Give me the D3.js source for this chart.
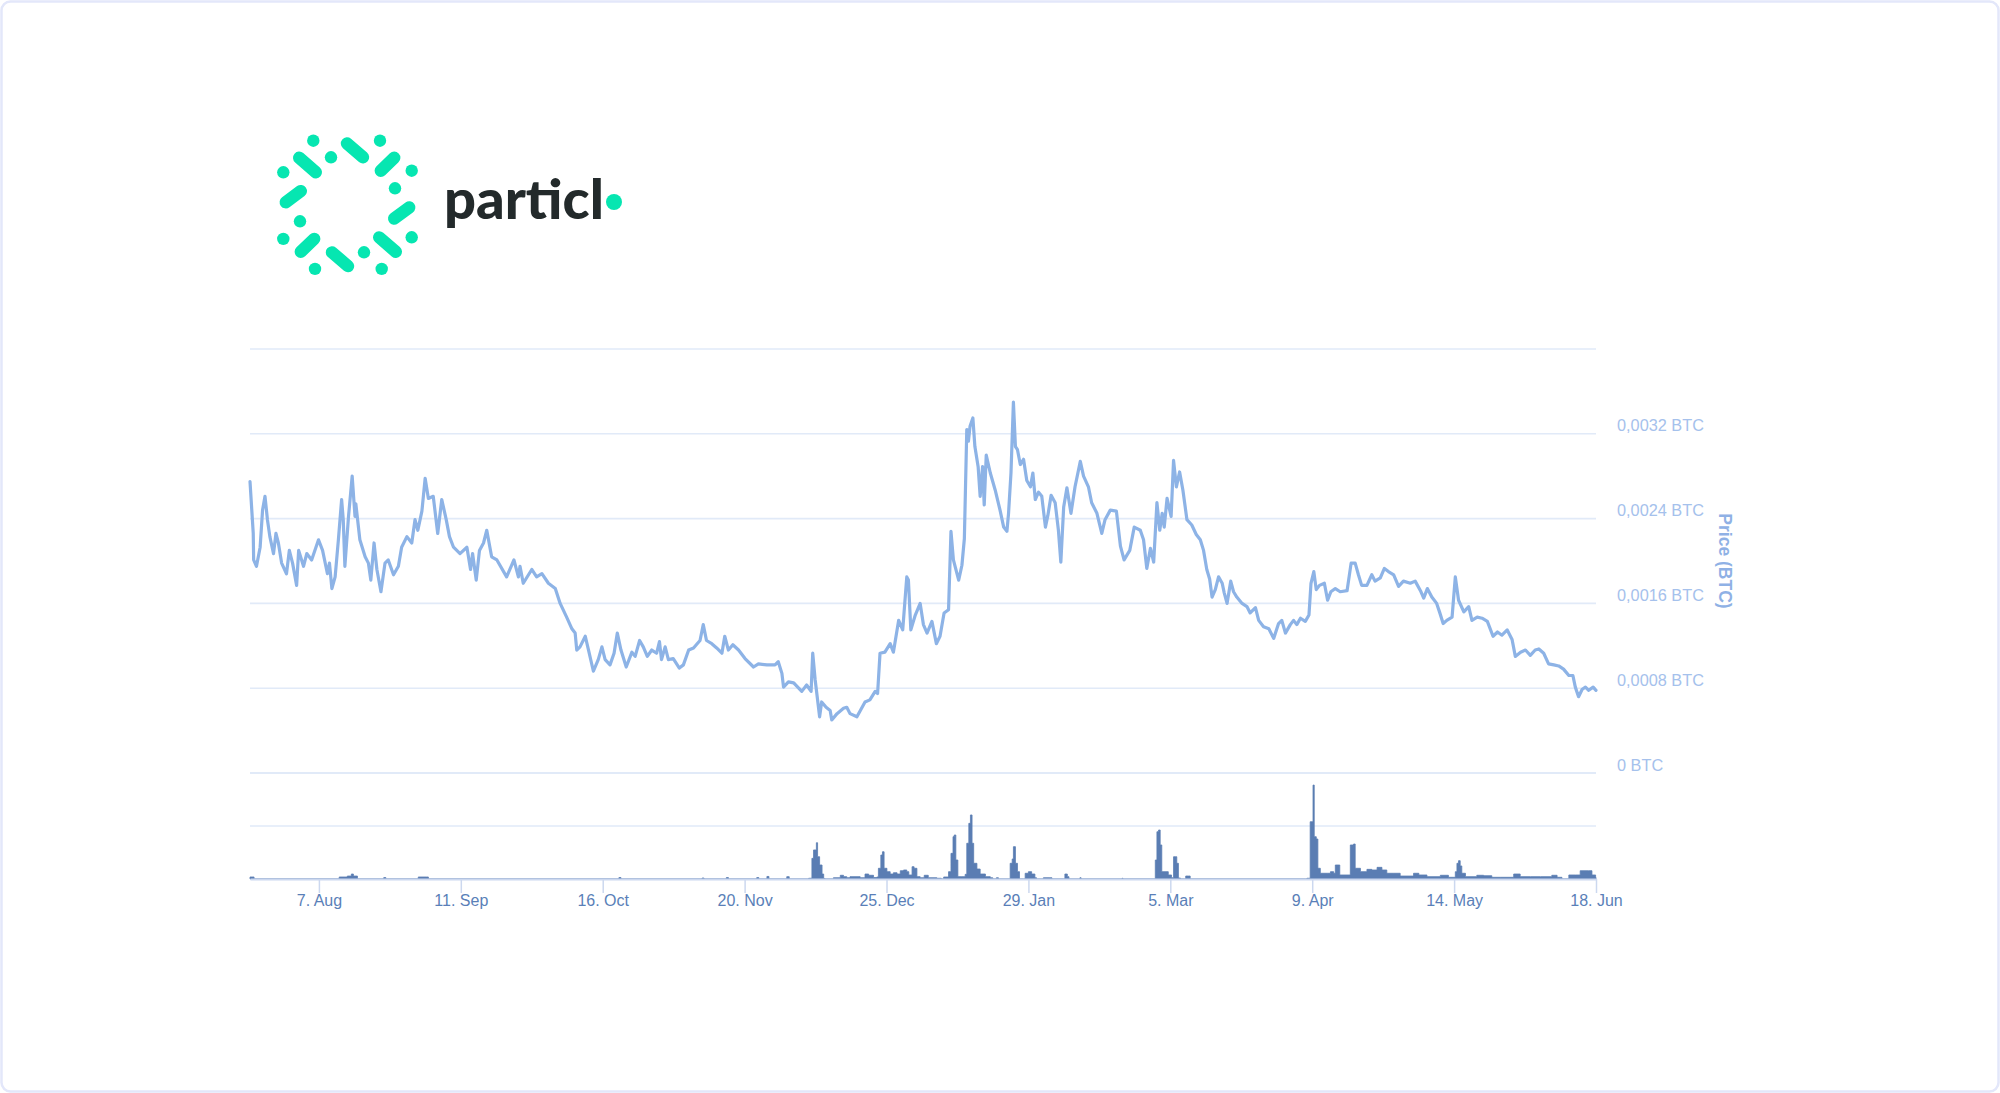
<!DOCTYPE html>
<html><head><meta charset="utf-8">
<script src="https://cdn.jsdelivr.net/npm/d3@7"></script>
<style>html,body{margin:0;padding:0;background:#fff;} svg{display:block;}</style>
</head><body>
<svg id="c" width="2000" height="1093"></svg>
<script>
// ---------- DATA ----------
const startDate = "2017-07-21";
const endDate = "2018-06-18";
// price: day offset from startDate, value in units of 0.0001 BTC
const priceUnit = 0.0001;
const priceDays = [0,0.8,0.9,1.6,2.5,3.1,3.7,4.3,4.9,5.8,6.4,7.0,7.8,9.0,9.7,10.5,11.5,12.0,13.2,14.0,15.2,16.9,17.9,19.1,19.6,20.2,21.0,21.8,22.6,23.0,23.4,24.3,25.2,25.9,26.1,27.1,28.4,29.2,29.8,30.6,31.3,32.3,33.3,34.1,35.4,36.6,37.4,38.7,39.9,40.7,41.4,42.4,43.2,44.0,45.2,46.3,47.3,48.4,49.2,50.2,51.8,53.5,54.4,54.9,55.8,56.6,57.6,58.4,59.6,60.9,63.3,65.1,66.2,66.6,67.4,69.5,70.7,72.0,73.6,75.3,
76.5,78.1,79.4,80.2,80.6,81.4,82.7,83.5,84.7,85.9,86.8,87.6,88.8,89.8,90.6,91.5,92.8,94.2,95.0,96.1,97.0,98.0,99.1,100.3,101.0,101.5,102.4,103.2,104.4,105.9,106.9,108.2,109.4,110.3,111.0,111.8,112.6,113.9,115.1,116.4,117.1,118.0,119.1,120.5,
122.1,124.2,125.4,127.5,129.5,130.3,131.2,131.6,132.8,134.1,136.1,137.3,138.4,138.8,139.4,140.5,141.0,142.1,143.1,143.5,144.8,146.4,147.2,148.0,149.7,151.7,152.9,154.2,154.8,155.4,156.6,157.9,158.7,160.0,161.0,162.0,162.4,163.0,164.1,165.3,166.1,167.0,168.2,169.3,170.2,171.2,172.3,172.9,173.5,174.8,175.6,176.2,176.8,177.2,177.6,178.3,178.8,179.6,180.1,180.7,181.1,181.6,182.6,183.8,185.0,185.9,186.7,187.1,187.7,188.3,188.8,189.3,190.0,190.8,191.6,192.5,193.1,193.7,194.5,195.3,196.2,196.8,197.6,198.6,199.4,200.0,200.7,201.5,202.5,203.5,204.8,205.6,206.8,207.6,208.9,210.1,210.9,212.2,213.7,214.7,215.6,217.0,218.1,219.6,220.4,221.2,222.1,222.9,223.7,224.4,225.0,225.5,226.2,227.2,227.8,228.5,229.3,230.1,231.1,232.3,233.4,234.4,
235.2,236.0,236.7,237.3,238.1,238.9,239.8,240.3,241.0,241.9,242.6,243.4,244.7,245.9,246.7,248.0,248.8,250.0,251.3,252.5,253.7,254.5,255.4,256.6,257.4,258.2,259.1,260.3,261.2,261.7,262.4,263.0,263.8,265.0,265.8,266.6,267.7,268.9,270.6,271.6,272.6,273.4,274.2,275.5,276.7,277.5,278.8,279.8,280.8,282.1,283.3,284.5,286.2,287.4,288.7,289.5,290.4,291.5,292.7,293.4,294.3,295.2,296.5,297.3,298.1,299.4,300.6,301.4,302.7,303.9,305.2,306.6,307.7,308.8,310.1,311.3,312.1,313.4,314.6,315.8,317.0,317.9,319.1,320.3,321.6,322.8,324.0,325.3,326.3,326.9,327.7,328.6,329.4,330.2,331.3,332.0];
const priceValues = [27.5,22.6,20.1,19.5,21.3,24.8,26.1,23.9,22.3,20.7,22.6,21.7,19.8,18.8,21.0,19.8,17.7,21.0,19.5,20.7,20.1,22.0,21.0,18.8,19.8,17.4,18.5,22.0,25.8,23.9,19.5,24.2,28.0,24.2,25.4,22.0,20.4,19.8,18.2,21.7,19.2,17.1,19.8,20.1,18.7,19.5,21.3,22.3,21.7,23.9,22.9,24.7,27.8,25.9,26.1,22.6,25.8,23.9,22.3,21.3,20.7,21.3,19.2,20.7,18.2,21.0,21.7,22.9,20.4,20.1,18.5,20.1,18.5,19.5,17.9,19.2,18.5,18.8,17.9,17.4,
16.0,14.7,13.6,13.2,11.6,11.9,12.9,11.6,9.6,10.7,11.9,10.7,10.2,11.3,13.2,11.6,10.0,11.4,11.0,12.5,11.9,11.0,11.6,11.3,12.4,10.7,11.9,10.7,10.8,9.9,10.2,11.6,11.8,12.2,12.5,14.0,12.5,12.2,11.8,11.3,12.9,11.6,12.1,11.6,
10.8,10.0,10.3,10.2,10.2,10.5,9.4,8.1,8.6,8.5,7.7,8.3,7.7,11.3,8.8,5.3,6.7,6.2,5.9,5.0,5.6,6.1,6.2,5.6,5.3,6.7,6.9,7.7,7.5,11.3,11.4,12.2,11.4,14.4,13.5,18.5,18.2,13.5,14.9,16.0,14.0,13.2,14.3,12.2,12.9,15.1,15.4,22.8,20.1,18.2,19.6,22.1,32.4,31.3,32.7,33.5,30.8,28.9,26.1,28.9,25.3,30.0,28.3,26.7,24.8,23.2,22.8,24.5,28.3,35.0,30.8,30.5,29.1,29.6,27.6,27.0,28.3,25.8,26.5,26.1,23.2,24.3,26.2,25.5,22.9,19.9,25.1,26.9,24.5,27.0,29.4,28.0,27.0,25.5,24.5,22.6,23.9,24.8,24.7,21.4,20.1,21.0,23.2,22.9,22.0,19.3,21.2,19.9,25.5,22.9,24.5,23.2,25.9,24.2,29.5,27.0,28.4,26.7,23.9,23.4,22.5,22.0,
21.0,19.2,18.3,16.6,17.3,18.5,17.9,17.0,16.0,18.1,17.1,16.6,16.0,15.7,15.1,15.6,14.4,13.8,13.6,12.7,14.1,14.4,13.2,14.0,14.4,14.0,14.6,14.3,14.9,17.9,19.0,17.3,17.7,17.9,16.3,17.1,17.4,17.1,17.2,19.8,19.8,18.7,17.7,17.7,18.7,18.1,18.4,19.3,19.0,18.7,17.6,18.1,17.9,18.1,17.2,16.5,17.4,16.6,16.0,15.2,14.1,14.4,14.7,18.5,16.3,15.2,15.7,14.4,14.7,14.6,14.3,12.9,13.3,13.0,13.5,12.6,11.0,11.4,11.6,11.1,11.6,11.7,11.3,10.3,10.2,10.1,9.8,9.2,9.2,8.1,7.2,7.9,8.1,7.8,8.1,7.8];
// volume: day offset, relative volume (0-100 = pane height)
const volumeDays = [0,0.5,1, 21.5,22,24,25,25.5,26.5, 32.5,33,33.5, 41,41.5,43.5,44, 90.5,91,91.5, 111,111.5,112, 117,117.5,118, 124.5,125,125.5, 127,127.5,128, 131.8,132.4,133,
137.6,137.8,138.6,139.0,139.7,140.0,140.5,141.1,141.5,141.8,
143.7,143.9,145.6,146.4,147.2,148.0,150.5,151.7,152.6,153.8,154.6,
155.0,155.6,156.0,156.4,157.1,157.9,158.7,159.6,160.4,161.2,162.0,162.5,163.3,163.8,164.5,165.3,166.3,167.3,169.4,170.5,
170.8,171.1,172.3,172.9,173.4,173.7,174.1,174.6,175.6,176.4,176.8,177.3,177.7,178.1,178.5,179.3,180.1,181.4,182.6,183.2,
184.0,184.1,184.6, 187.2,187.5,188.0,188.3,188.8,189.3,189.8, 190.8,191.2,192.0,192.8,193.6,194, 195.3,195.7,197.3,197.8, 200.6,201.0,201.6,202, 204.4,204.7,205, 215,215.1,215.3,
223.0,223.3,223.7,224.1,224.5,224.9,225.7,226.5,227.3,227.8,228.2,228.6,229.0,229.5, 230.5,230.8,231.5,231.9,
260.4,260.7,261.5,262.2,262.5,263.0,263.4,264.0,265.7,266.5,267.3,267.7,268.4,268.8,270.6,271.4,272.2,272.6,273.9,275.5,276.7,278.0,279.2,280.4,282.1,283.7,287.0,288.3,290.3,293.6,295.6,297.3,297.7,298.1,298.5,298.9,299.8,302.6,304.3,306.3,308.4,311.7,313.3,315.8,318.3,321.1,322.4,323.6,324.2,325.3,326.9,328.1,330.2,331.0,331.9,332];
const volumeValues = [1.9,1.9,0, 0,1.9,2.8,4.7,2.8,0, 0,1.4,0, 0,1.9,1.9,0, 0,1.4,0, 0,0.9,0, 0,1.4,0, 0,1.4,0, 0,2.4,0, 0,2.2,0,
0,0.7,19.5,27.4,34.2,21.0,13.2,4.7,0.5,0,
0,1.2,3.5,2.2,1.2,2.2,1.2,4.7,3.5,1.4,1.9,
10.1,22.6,25.7,10.1,6.9,4.7,5.9,4.7,7.8,8.5,6.9,3.8,11.6,10.1,2.2,1.2,3.5,1.2,0.7,0,
0,1.9,6.9,24.2,39.9,41.5,17.9,2.2,2.2,4.4,33.7,52.5,60.4,33.7,14.8,9.4,4.7,2.2,1.2,0,
0,1.2,0, 0,14.8,18.9,30.5,14.8,6.9,0, 0,5.4,6.9,4.7,1.2,0, 0,1.2,1.2,0, 0,4.7,2.2,0, 0,1.2,0, 0,0.7,0,
0,17.9,44.6,46.2,32.1,6.9,6.9,3.8,1.2,21.0,21.0,14.8,0.9,0, 0,2.8,2.8,0,
0,0.7,54.0,88.6,39.9,37.7,10.1,5.4,5.4,6.9,5.4,13.2,13.2,3.8,3.8,32.1,33.0,10.1,6.9,9.1,8.5,11.0,8.5,5.4,5.4,2.8,5.4,3.8,2.2,3.5,1.6,6.9,14.8,17.3,12.3,5.4,2.2,3.5,3.1,1.6,1.6,4.7,2.2,2.2,2.2,3.5,1.6,0,0,3.8,3.8,7.8,7.8,3.8,1.6,1.4];
const priceTicks = [0, 0.0008, 0.0016, 0.0024, 0.0032, 0.004];
const priceTickLabels = ["0 BTC", "0,0008 BTC", "0,0016 BTC", "0,0024 BTC", "0,0032 BTC", ""];
const volumeTicks = [0, 50, 100];
const xTickDates = ["2017-08-07","2017-09-11","2017-10-16","2017-11-20","2017-12-25","2018-01-29","2018-03-05","2018-04-09","2018-05-14","2018-06-18"];
const xTickLabels = ["7. Aug","11. Sep","16. Oct","20. Nov","25. Dec","29. Jan","5. Mar","9. Apr","14. May","18. Jun"];
const axisTitle = "Price (BTC)";
const brandName = "particl";

// ---------- CHART ----------
const svg = d3.select("#c");
const parse = d3.utcParse("%Y-%m-%d");
const t0 = parse(startDate);
const dayToDate = d => new Date(t0.getTime() + d * 864e5);

const x = d3.scaleUtc().domain([t0, parse(endDate)]).range([250, 1596]);
const yP = d3.scaleLinear().domain([0, 0.004]).range([773, 349]);
const yV = d3.scaleLinear().domain([0, 100]).range([879, 773]);

// frame
svg.append("rect").attr("x", 1.5).attr("y", 1.5).attr("width", 1997).attr("height", 1090)
  .attr("rx", 9).attr("fill", "#fff").attr("stroke", "#e3e7fa").attr("stroke-width", 2.5);

// logo
const logo = svg.append("g").attr("transform", "translate(347.5,204.8)");
const logoGreen = "#06e6b1";
const dotsHalf = [[-34.2,-64.1],[32.5,-64.1],[-16.5,-47.5],[-64.2,-32.5],[64.2,-34.1],[47.5,-16.5]];
const dashesHalf = [[[-0.5,-61.3],[15.5,-47.6]],[[-48.3,-47.0],[-31.7,-32.6]],[[33.3,-34.1],[46.7,-47.0]],[[-61.7,-2.6],[-46.7,-13.7]]];
const dots = dotsHalf.concat(dotsHalf.map(([a,b]) => [-a,-b]));
const dashes = dashesHalf.concat(dashesHalf.map(([p,q]) => [[-p[0],-p[1]],[-q[0],-q[1]]]));
logo.selectAll("circle").data(dots).join("circle")
  .attr("cx", d => d[0]).attr("cy", d => d[1]).attr("r", 6.2).attr("fill", logoGreen);
logo.selectAll("line").data(dashes).join("line")
  .attr("x1", d => d[0][0]).attr("y1", d => d[0][1]).attr("x2", d => d[1][0]).attr("y2", d => d[1][1])
  .attr("stroke", logoGreen).attr("stroke-width", 12.4).attr("stroke-linecap", "round");
svg.append("text").attr("x", 444).attr("y", 219).text(brandName)
  .attr("font-family", "Lato, 'Open Sans', sans-serif").attr("font-weight", 900).attr("font-size", 55)
  .attr("fill", "#232a2b").attr("textLength", 160).attr("lengthAdjust", "spacingAndGlyphs");
svg.append("circle").attr("cx", 614).attr("cy", 202).attr("r", 8).attr("fill", logoGreen);

// grid lines price pane
const gridColor = "#e1eaf8";
svg.append("g").selectAll("line").data(priceTicks).join("line")
  .attr("x1", 250).attr("x2", 1596).attr("y1", d => yP(d)).attr("y2", d => yP(d))
  .attr("stroke", gridColor).attr("stroke-width", d => d === 0 ? 2.2 : 1.6);
// volume grid
svg.append("g").selectAll("line").data(volumeTicks.slice(1, 2)).join("line")
  .attr("x1", 250).attr("x2", 1596).attr("y1", d => yV(d)).attr("y2", d => yV(d))
  .attr("stroke", gridColor).attr("stroke-width", 1.6);

// volume area
const volData = volumeDays.map((d, i) => ({date: dayToDate(d), v: volumeValues[i]}));
svg.append("path").datum(volData)
  .attr("d", d3.area().curve(d3.curveStepAfter).x(d => x(d.date)).y0(yV(0)).y1(d => yV(d.v)))
  .attr("fill", "#5a7db3").attr("stroke", "#5a7db3").attr("stroke-width", 0.8);

// price line
const priceData = priceDays.map((d, i) => ({date: dayToDate(d), p: priceValues[i] * priceUnit}));
svg.append("path").datum(priceData)
  .attr("d", d3.line().x(d => x(d.date)).y(d => yP(d.p)))
  .attr("fill", "none").attr("stroke", "#8db3e6").attr("stroke-width", 3.2)
  .attr("stroke-linejoin", "round").attr("stroke-linecap", "round");

// x axis
const xAxis = d3.axisBottom(x)
  .tickValues(xTickDates.map(parse))
  .tickFormat((d, i) => xTickLabels[i])
  .tickSize(14).tickPadding(2).tickSizeOuter(0);
const gx = svg.append("g").attr("transform", `translate(0,${yV(0)})`).call(xAxis);
gx.select(".domain").attr("stroke", "#ccd8ef").attr("stroke-width", 1.8);
gx.selectAll(".tick line").attr("stroke", "#ccd8ef").attr("stroke-width", 1.5);
gx.selectAll(".tick text").attr("fill", "#5a7fb8")
  .attr("font-family", "'Liberation Sans', Arial, sans-serif").attr("font-size", 16);

// y axis (right)
const yAxis = d3.axisRight(yP).tickValues(priceTicks)
  .tickFormat((d, i) => priceTickLabels[i]).tickSize(0).tickPadding(21);
const gy = svg.append("g").attr("transform", "translate(1596,0)").call(yAxis);
gy.select(".domain").remove();
gy.selectAll(".tick text").attr("fill", "#a5c1ec").attr("dy", -3)
  .attr("font-family", "'Liberation Sans', Arial, sans-serif").attr("font-size", 16.3);

// axis title
svg.append("text").text(axisTitle)
  .attr("transform", `translate(1725,${(yP(0) + yP(0.004)) / 2}) rotate(90)`)
  .attr("text-anchor", "middle").attr("dominant-baseline", "central")
  .attr("font-family", "'Liberation Sans', Arial, sans-serif").attr("font-weight", 700)
  .attr("font-size", 17.5).attr("fill", "#8fb1e5");
</script>
</body></html>
